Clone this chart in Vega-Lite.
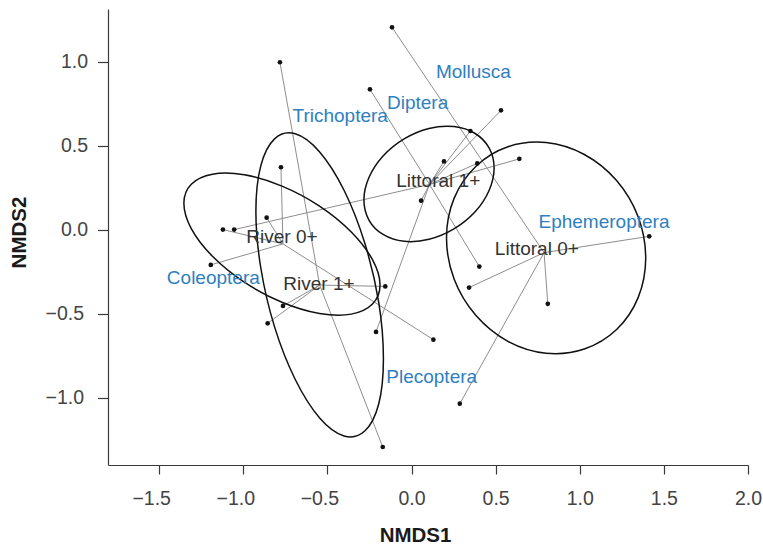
{
  "$schema": "https://vega.github.io/schema/vega-lite/v6.json",
  "autosize": {"type": "none"},
  "padding": {"left": 108, "top": 9, "right": 15, "bottom": 79},
  "width": 640,
  "height": 456,
  "background": "white",
  "config": {
    "view": {"stroke": null},
    "font": "Liberation Sans",
    "axis": {
      "grid": false,
      "domainColor": "#3a3a3a",
      "domainWidth": 1.2,
      "tickColor": "#3a3a3a",
      "tickWidth": 1.2,
      "labelColor": "#444444",
      "labelFont": "Liberation Sans",
      "labelFontSize": 19.5,
      "titleFont": "Liberation Sans",
      "titleFontSize": 20.5,
      "titleFontWeight": "bold",
      "titleColor": "#1a1a1a"
    }
  },
  "datasets": {
    "sites": [
      {"group": "Littoral 0+", "NMDS1": -0.116, "NMDS2": 1.206},
      {"group": "River 1+", "NMDS1": -0.782, "NMDS2": 0.998},
      {"group": "Littoral 1+", "NMDS1": -0.247, "NMDS2": 0.837},
      {"group": "Littoral 1+", "NMDS1": 0.532, "NMDS2": 0.712},
      {"group": "Littoral 1+", "NMDS1": 0.350, "NMDS2": 0.589},
      {"group": "Littoral 1+", "NMDS1": 0.193, "NMDS2": 0.408},
      {"group": "Littoral 1+", "NMDS1": 0.391, "NMDS2": 0.396},
      {"group": "Littoral 1+", "NMDS1": 0.641, "NMDS2": 0.423},
      {"group": "Littoral 1+", "NMDS1": 0.057, "NMDS2": 0.174},
      {"group": "River 0+", "NMDS1": -0.776, "NMDS2": 0.373},
      {"group": "River 0+", "NMDS1": -0.861, "NMDS2": 0.073},
      {"group": "River 0+", "NMDS1": -1.121, "NMDS2": 0.002},
      {"group": "Littoral 1+", "NMDS1": -1.054, "NMDS2": 0.002},
      {"group": "River 0+", "NMDS1": -1.193, "NMDS2": -0.208},
      {"group": "River 1+", "NMDS1": -0.156, "NMDS2": -0.336},
      {"group": "River 1+", "NMDS1": -0.764, "NMDS2": -0.452},
      {"group": "River 1+", "NMDS1": -0.855, "NMDS2": -0.556},
      {"group": "Littoral 1+", "NMDS1": -0.211, "NMDS2": -0.607},
      {"group": "River 0+", "NMDS1": 0.130, "NMDS2": -0.653},
      {"group": "River 1+", "NMDS1": -0.171, "NMDS2": -1.292},
      {"group": "Littoral 1+", "NMDS1": 0.403, "NMDS2": -0.218},
      {"group": "Littoral 0+", "NMDS1": 0.342, "NMDS2": -0.343},
      {"group": "Littoral 0+", "NMDS1": 0.810, "NMDS2": -0.440},
      {"group": "Littoral 0+", "NMDS1": 1.413, "NMDS2": -0.038},
      {"group": "Littoral 0+", "NMDS1": 0.287, "NMDS2": -1.034}
    ],
    "centroids": [
      {"group": "River 0+", "NMDS1": -0.770, "NMDS2": -0.040, "cx": -0.764, "cy": -0.083},
      {"group": "River 1+", "NMDS1": -0.550, "NMDS2": -0.320, "cx": -0.546, "cy": -0.328},
      {"group": "Littoral 1+", "NMDS1": 0.159, "NMDS2": 0.292, "cx": 0.107, "cy": 0.271},
      {"group": "Littoral 0+", "NMDS1": 0.745, "NMDS2": -0.111, "cx": 0.788, "cy": -0.135}
    ],
    "species": [
      {"taxon": "Mollusca", "NMDS1": 0.368, "NMDS2": 0.939},
      {"taxon": "Diptera", "NMDS1": 0.036, "NMDS2": 0.758},
      {"taxon": "Trichoptera", "NMDS1": -0.424, "NMDS2": 0.678},
      {"taxon": "Ephemeroptera", "NMDS1": 1.144, "NMDS2": 0.049},
      {"taxon": "Coleoptera", "NMDS1": -1.178, "NMDS2": -0.288},
      {"taxon": "Plecoptera", "NMDS1": 0.120, "NMDS2": -0.876}
    ],
    "ellipses": [
      {"group": "River 0+", "i": 0, "NMDS1": -0.187, "NMDS2": -0.328},
      {"group": "River 0+", "i": 1, "NMDS1": -0.232, "NMDS2": -0.177},
      {"group": "River 0+", "i": 2, "NMDS1": -0.358, "NMDS2": -0.012},
      {"group": "River 0+", "i": 3, "NMDS1": -0.547, "NMDS2": 0.142},
      {"group": "River 0+", "i": 4, "NMDS1": -0.770, "NMDS2": 0.261},
      {"group": "River 0+", "i": 5, "NMDS1": -0.994, "NMDS2": 0.328},
      {"group": "River 0+", "i": 6, "NMDS1": -1.183, "NMDS2": 0.332},
      {"group": "River 0+", "i": 7, "NMDS1": -1.309, "NMDS2": 0.272},
      {"group": "River 0+", "i": 8, "NMDS1": -1.353, "NMDS2": 0.159},
      {"group": "River 0+", "i": 9, "NMDS1": -1.309, "NMDS2": 0.008},
      {"group": "River 0+", "i": 10, "NMDS1": -1.183, "NMDS2": -0.157},
      {"group": "River 0+", "i": 11, "NMDS1": -0.994, "NMDS2": -0.311},
      {"group": "River 0+", "i": 12, "NMDS1": -0.770, "NMDS2": -0.430},
      {"group": "River 0+", "i": 13, "NMDS1": -0.547, "NMDS2": -0.497},
      {"group": "River 0+", "i": 14, "NMDS1": -0.358, "NMDS2": -0.501},
      {"group": "River 0+", "i": 15, "NMDS1": -0.232, "NMDS2": -0.441},
      {"group": "River 1+", "i": 0, "NMDS1": -0.167, "NMDS2": -0.766},
      {"group": "River 1+", "i": 1, "NMDS1": -0.195, "NMDS2": -0.430},
      {"group": "River 1+", "i": 2, "NMDS1": -0.278, "NMDS2": -0.078},
      {"group": "River 1+", "i": 3, "NMDS1": -0.401, "NMDS2": 0.236},
      {"group": "River 1+", "i": 4, "NMDS1": -0.546, "NMDS2": 0.464},
      {"group": "River 1+", "i": 5, "NMDS1": -0.691, "NMDS2": 0.572},
      {"group": "River 1+", "i": 6, "NMDS1": -0.814, "NMDS2": 0.542},
      {"group": "River 1+", "i": 7, "NMDS1": -0.896, "NMDS2": 0.381},
      {"group": "River 1+", "i": 8, "NMDS1": -0.925, "NMDS2": 0.111},
      {"group": "River 1+", "i": 9, "NMDS1": -0.896, "NMDS2": -0.225},
      {"group": "River 1+", "i": 10, "NMDS1": -0.814, "NMDS2": -0.577},
      {"group": "River 1+", "i": 11, "NMDS1": -0.691, "NMDS2": -0.890},
      {"group": "River 1+", "i": 12, "NMDS1": -0.546, "NMDS2": -1.119},
      {"group": "River 1+", "i": 13, "NMDS1": -0.401, "NMDS2": -1.226},
      {"group": "River 1+", "i": 14, "NMDS1": -0.278, "NMDS2": -1.197},
      {"group": "River 1+", "i": 15, "NMDS1": -0.195, "NMDS2": -1.036},
      {"group": "Littoral 1+", "i": 0, "NMDS1": 0.491, "NMDS2": 0.369},
      {"group": "Littoral 1+", "i": 1, "NMDS1": 0.461, "NMDS2": 0.488},
      {"group": "Littoral 1+", "i": 2, "NMDS1": 0.378, "NMDS2": 0.574},
      {"group": "Littoral 1+", "i": 3, "NMDS1": 0.252, "NMDS2": 0.615},
      {"group": "Littoral 1+", "i": 4, "NMDS1": 0.104, "NMDS2": 0.604},
      {"group": "Littoral 1+", "i": 5, "NMDS1": -0.044, "NMDS2": 0.542},
      {"group": "Littoral 1+", "i": 6, "NMDS1": -0.169, "NMDS2": 0.440},
      {"group": "Littoral 1+", "i": 7, "NMDS1": -0.253, "NMDS2": 0.312},
      {"group": "Littoral 1+", "i": 8, "NMDS1": -0.283, "NMDS2": 0.179},
      {"group": "Littoral 1+", "i": 9, "NMDS1": -0.253, "NMDS2": 0.059},
      {"group": "Littoral 1+", "i": 10, "NMDS1": -0.169, "NMDS2": -0.027},
      {"group": "Littoral 1+", "i": 11, "NMDS1": -0.044, "NMDS2": -0.068},
      {"group": "Littoral 1+", "i": 12, "NMDS1": 0.104, "NMDS2": -0.056},
      {"group": "Littoral 1+", "i": 13, "NMDS1": 0.252, "NMDS2": 0.006},
      {"group": "Littoral 1+", "i": 14, "NMDS1": 0.378, "NMDS2": 0.108},
      {"group": "Littoral 1+", "i": 15, "NMDS1": 0.461, "NMDS2": 0.235},
      {"group": "Littoral 0+", "i": 0, "NMDS1": 1.392, "NMDS2": -0.167},
      {"group": "Littoral 0+", "i": 1, "NMDS1": 1.347, "NMDS2": 0.078},
      {"group": "Littoral 0+", "i": 2, "NMDS1": 1.219, "NMDS2": 0.294},
      {"group": "Littoral 0+", "i": 3, "NMDS1": 1.027, "NMDS2": 0.449},
      {"group": "Littoral 0+", "i": 4, "NMDS1": 0.800, "NMDS2": 0.520},
      {"group": "Littoral 0+", "i": 5, "NMDS1": 0.573, "NMDS2": 0.495},
      {"group": "Littoral 0+", "i": 6, "NMDS1": 0.382, "NMDS2": 0.378},
      {"group": "Littoral 0+", "i": 7, "NMDS1": 0.253, "NMDS2": 0.188},
      {"group": "Littoral 0+", "i": 8, "NMDS1": 0.208, "NMDS2": -0.047},
      {"group": "Littoral 0+", "i": 9, "NMDS1": 0.253, "NMDS2": -0.292},
      {"group": "Littoral 0+", "i": 10, "NMDS1": 0.382, "NMDS2": -0.508},
      {"group": "Littoral 0+", "i": 11, "NMDS1": 0.573, "NMDS2": -0.663},
      {"group": "Littoral 0+", "i": 12, "NMDS1": 0.800, "NMDS2": -0.734},
      {"group": "Littoral 0+", "i": 13, "NMDS1": 1.027, "NMDS2": -0.709},
      {"group": "Littoral 0+", "i": 14, "NMDS1": 1.219, "NMDS2": -0.593},
      {"group": "Littoral 0+", "i": 15, "NMDS1": 1.347, "NMDS2": -0.403}
    ]
  },
  "encoding": {
    "x": {
      "field": "NMDS1",
      "type": "quantitative",
      "scale": {"domain": [-1.804, 2.0], "nice": false, "zero": false},
      "axis": {
        "title": "NMDS1",
        "values": [-1.5, -1.0, -0.5, 0.0, 0.5, 1.0, 1.5, 2.0],
        "format": ".1f",
        "tickSize": 9,
        "labelPadding": 15,
        "labelOffset": {"condition": {"test": "datum.value < 0", "value": -8}, "value": 0},
        "labelFlush": false,
        "titleX": 307,
        "titleY": 76,
        "titleAnchor": null,
        "titleAlign": "center",
        "titleBaseline": "alphabetic"
      }
    },
    "y": {
      "field": "NMDS2",
      "type": "quantitative",
      "scale": {"domain": [-1.399, 1.315], "nice": false, "zero": false},
      "axis": {
        "title": "NMDS2",
        "values": [-1.0, -0.5, 0.0, 0.5, 1.0],
        "format": ".1f",
        "tickSize": 10.5,
        "labelPadding": {"condition": {"test": "datum.value < 0", "value": 14}, "value": 10},
        "labelFlush": false,
        "titleAngle": -90,
        "titleX": -89,
        "titleY": 223,
        "titleAlign": "center",
        "titleBaseline": "middle"
      }
    }
  },
  "layer": [
    {
      "data": {"name": "sites"},
      "transform": [
        {"lookup": "group", "from": {"data": {"name": "centroids"}, "key": "group", "fields": ["cx", "cy"]}}
      ],
      "mark": {"type": "rule", "color": "#8e8e8e", "strokeWidth": 1},
      "encoding": {
        "x2": {"field": "cx"},
        "y2": {"field": "cy"}
      }
    },
    {
      "data": {"name": "ellipses"},
      "mark": {"type": "line", "interpolate": "cardinal-closed", "color": "#111111", "strokeWidth": 1.5},
      "encoding": {
        "detail": {"field": "group"},
        "order": {"field": "i", "type": "quantitative"}
      }
    },
    {
      "data": {"name": "sites"},
      "mark": {"type": "circle", "color": "#111111", "opacity": 1, "size": 22}
    },
    {
      "data": {"name": "centroids"},
      "mark": {"type": "text", "font": "Liberation Sans", "fontSize": 19, "color": "#333333", "align": "center", "baseline": "middle"},
      "encoding": {"text": {"field": "group"}}
    },
    {
      "data": {"name": "species"},
      "mark": {"type": "text", "font": "Liberation Sans", "fontSize": 19, "color": "#2f7fc1", "align": "center", "baseline": "middle"},
      "encoding": {"text": {"field": "taxon"}}
    }
  ]
}
